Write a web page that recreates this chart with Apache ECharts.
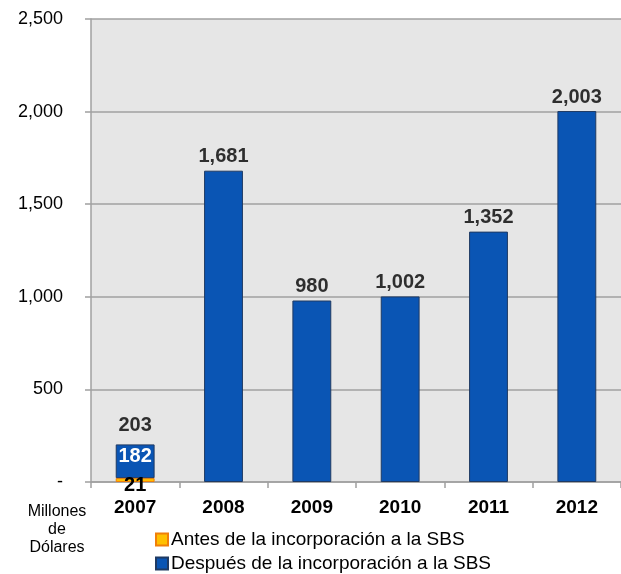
<!DOCTYPE html>
<html>
<head>
<meta charset="utf-8">
<style>
  html, body { margin: 0; padding: 0; background: #fff; }
  #chart { width: 621px; height: 574px; }
</style>
<script src="https://cdn.jsdelivr.net/npm/echarts@6/dist/echarts.min.js"></script>
</head>
<body>
<div id="chart"></div>
<script>
// Annual amounts, millions of dollars
const years = ['2007', '2008', '2009', '2010', '2011', '2012'];
const antesSBS = [21, 0, 0, 0, 0, 0];
const despuesSBS = [182, 1681, 980, 1002, 1352, 2003];
const seriesNames = ['Antes de la incorporación a la SBS', 'Después de la incorporación a la SBS'];
const yTicks = { min: 0, max: 2500, interval: 500 };

const totals = years.map((_, i) => antesSBS[i] + despuesSBS[i]);
const fmt = v => v === 0 ? '-' : v.toLocaleString('en-US');

const FONT = '"Liberation Sans", Arial, sans-serif';
const labelBase = { fontFamily: FONT, fontWeight: 'bold', fontSize: 20, color: '#000' };

const legendItem = (name, top) => ({
  data: [name],
  orient: 'horizontal',
  left: 155, top: top,
  padding: 0,
  itemWidth: 12, itemHeight: 12,
  icon: 'rect',
  textStyle: { fontFamily: FONT, fontSize: 19, color: '#000', padding: [0, 0, 0, -2] }
});

const chart = echarts.init(document.getElementById('chart'), null, { renderer: 'canvas' });
chart.setOption({
  animation: false,
  backgroundColor: '#ffffff',
  grid: {
    left: 91, top: 19, bottom: 92, right: -11,
    show: true, backgroundColor: '#e6e6e6', borderWidth: 0
  },
  legend: [legendItem(seriesNames[0], 530), legendItem(seriesNames[1], 554)],
  xAxis: {
    type: 'category',
    data: years,
    axisLine: { lineStyle: { color: '#a0a0a0', width: 1.5 } },
    axisTick: { show: true, length: 6, lineStyle: { color: '#a0a0a0', width: 1.5 } },
    axisLabel: { fontFamily: FONT, fontWeight: 'bold', fontSize: 19, color: '#000', margin: 16 }
  },
  yAxis: {
    type: 'value',
    min: yTicks.min, max: yTicks.max, interval: yTicks.interval,
    axisLine: { show: true, lineStyle: { color: '#a0a0a0', width: 1.5 } },
    axisTick: { show: true, length: 6, lineStyle: { color: '#a0a0a0', width: 1.5 } },
    splitLine: { lineStyle: { color: '#a0a0a0', width: 1.5 } },
    axisLabel: {
      fontFamily: FONT, fontSize: 18, color: '#000', margin: 28,
      formatter: fmt
    }
  },
  graphic: [{
    type: 'text',
    x: 57, y: 503,
    style: {
      text: 'Millones\nde\nDólares',
      fontFamily: FONT, fontSize: 16, lineHeight: 18,
      fill: '#000', align: 'center'
    }
  }],
  series: [
    {
      name: seriesNames[0],
      type: 'bar',
      stack: 'total',
      barWidth: '44%',
      data: antesSBS.map(v => v > 0 ? v : null),
      itemStyle: { color: '#ffc000', borderColor: '#f07f09', borderWidth: 1 },
      label: {
        show: true, position: 'inside', offset: [0, 5],
        ...labelBase,
        formatter: p => String(p.value)
      }
    },
    {
      name: seriesNames[1],
      type: 'bar',
      stack: 'total',
      barWidth: '44%',
      data: despuesSBS.map((v, i) => antesSBS[i] > 0
        ? { value: v, label: { show: true } }
        : v),
      itemStyle: { color: '#0a55b4', borderColor: '#1f3a63', borderWidth: 1 },
      label: {
        show: false, position: 'insideTop', distance: 2,
        ...labelBase, color: '#ffffff',
        formatter: p => fmt(p.value)
      }
    },
    {
      name: 'total',
      type: 'scatter',
      symbolSize: 0,
      silent: true,
      data: totals.map((v, i) => ({
        value: v,
        label: { distance: antesSBS[i] > 0 ? 9 : 4 }
      })),
      label: {
        show: true, position: 'top',
        ...labelBase,
        formatter: p => fmt(p.value)
      }
    }
  ]
});
</script>
</body>
</html>
